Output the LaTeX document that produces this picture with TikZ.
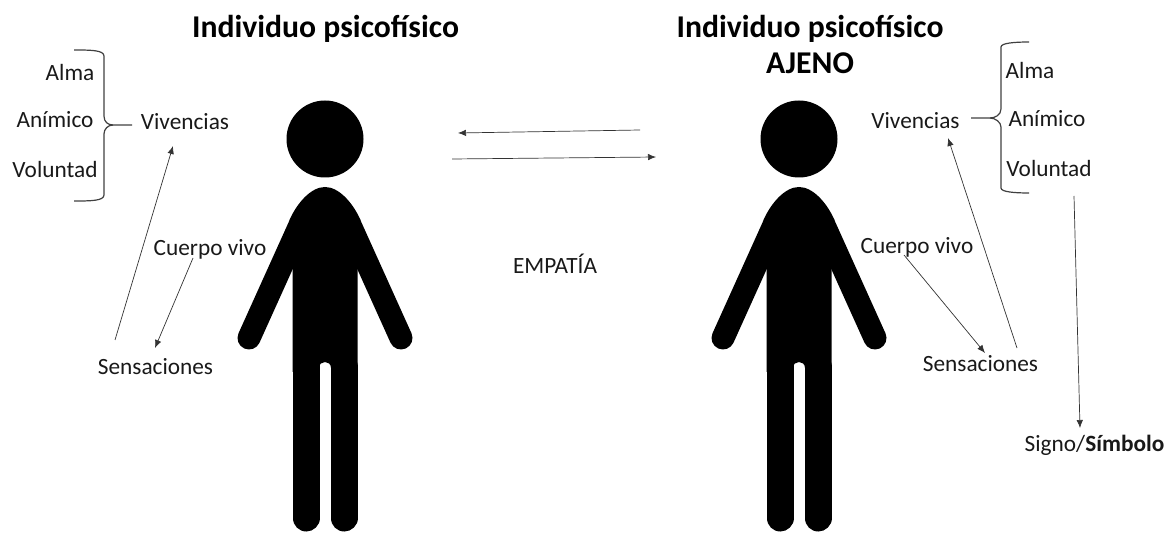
\documentclass[tikz,border=0pt]{standalone}
\usepackage{fontspec}
\setmainfont{Carlito}
\usetikzlibrary{arrows.meta}
\tikzset{
 x=1pt,y=-1pt,
 lbl/.style={font=\fontsize{23.3}{27}\selectfont,text=black!90,inner sep=0pt,anchor=base},
 ttl/.style={font=\bfseries\fontsize{31.7}{37}\selectfont,inner sep=0pt,anchor=base},
 arr/.style={draw=black!80,line width=0.7pt,-{Latex[length=8pt,width=6.5pt]}},
 brace/.style={draw=black!75,line width=1.2pt,line join=round},
 limbline/.style={draw=black,line cap=round},
 person/.pic={
  \fill[black] (0,-48) circle (38.5);
  \fill[black] (-32.5,185) -- (-32.5,81) -- (-35.5,33)
    .. controls (-28,16) and (-14,0) .. (0,0)
    .. controls (14,0) and (28,16) .. (35.5,33)
    -- (32.5,81) -- (32.5,185) -- (6,185) -- (6,181)
    .. controls (6,177) and (3,175) .. (0,175)
    .. controls (-3,175) and (-6,177) .. (-6,181)
    -- (-6,185) -- cycle;
  \draw[limbline,line width=23pt] (-76,151) -- (-25,38);
  \draw[limbline,line width=23pt] (76,151) -- (25,38);
  \draw[limbline,line width=27pt] (-19,331) -- (-19,180);
  \draw[limbline,line width=27pt] (19,331) -- (19,180);
 }
}
\begin{document}
\begin{tikzpicture}
\useasboundingbox (0,0) rectangle (1168,537);
\pic at (325,187) {person};
\pic at (799,187) {person};
\node[ttl] (t1) at (325.5,38) {Individuo psicofísico};
\node[ttl] (t2) at (810,38) {Individuo psicofísico};
\node[ttl] (t3) at (810,74) {AJENO};
\node[lbl] (alma1) at (70,81) {Alma};
\node[lbl] (animo1) at (55,128) {Anímico};
\node[lbl] (vol1) at (55,178) {Voluntad};
\node[lbl] (viv1) at (185,130) {Vivencias};
\node[lbl] (cv1) at (210,256) {Cuerpo vivo};
\node[lbl] (sen1) at (155.5,374) {Sensaciones};
\node[lbl] (emp) at (555,274) {EMPATÍA};
\node[lbl] (alma2) at (1030,79) {Alma};
\node[lbl] (animo2) at (1047,127) {Anímico};
\node[lbl] (vol2) at (1049,177) {Voluntad};
\node[lbl] (viv2) at (915.5,129) {Vivencias};
\node[lbl] (cv2) at (917,254) {Cuerpo vivo};
\node[lbl] (sen2) at (980.5,372) {Sensaciones};
\node[lbl] (sig) at (1094.5,451) {Signo/\textbf{Símbolo}};
\coordinate (a1) at (640,130); \coordinate (a2) at (458,133);
\coordinate (b1) at (452,159); \coordinate (b2) at (656,157);
\draw[arr] (a1) -- (a2);
\draw[arr] (b1) -- (b2);
\coordinate (s1) at (115,340); \coordinate (v1) at (173,146);
\draw[arr] (s1) -- (v1);
\coordinate (c1) at (193,258); \coordinate (s1b) at (155,348);
\draw[arr] (c1) -- (s1b);
\coordinate (c2) at (904,255); \coordinate (s2) at (985,353);
\draw[arr] (c2) -- (s2);
\coordinate (s3) at (1017,348); \coordinate (v2) at (948,138);
\draw[arr] (s3) -- (v2);
\coordinate (vb) at (1074,196); \coordinate (sg) at (1080,428);
\draw[arr] (vb) -- (sg);
\draw[brace] (74,50) .. controls (90,50) and (104,50) .. (104,56) -- (104,116) .. controls (104,122) and (108,125) .. (113,125) -- (132,125);
\draw[brace] (74,201) .. controls (90,201) and (104,201) .. (104,195) -- (104,134) .. controls (104,129) and (108,125) .. (113,125);
\draw[brace] (1029,42) .. controls (1015,42) and (1001,43) .. (1001,47) -- (1001,109) .. controls (1001,115) and (995,118) .. (990,118) -- (971,118);
\draw[brace] (1029,193) .. controls (1015,193) and (1001,192) .. (1001,188) -- (1001,127) .. controls (1001,122) and (995,118) .. (990,118);
\end{tikzpicture}
\end{document}
